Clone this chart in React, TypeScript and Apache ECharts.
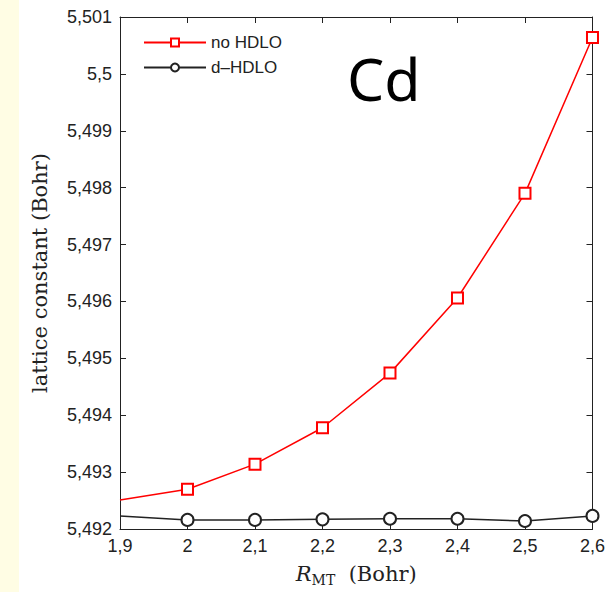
import React, { useEffect, useRef } from "react";
import * as echarts from "echarts";

const xValues = [1.9, 2.0, 2.1, 2.2, 2.3, 2.4, 2.5, 2.6];
const noHDLO = [5.49251, 5.4927, 5.49314, 5.49378, 5.49474, 5.49606, 5.4979, 5.50064];
const dHDLO = [5.49223, 5.49216, 5.49216, 5.49217, 5.49218, 5.49218, 5.49214, 5.49223];
const seriesNames = ["no HDLO", "d\u2013HDLO"];
const panelLabel = "Cd";
const yAxisTitle = "lattice constant (Bohr)";

const fmt = (v: number) => {
  const s = String(parseFloat(v.toFixed(4)));
  return s.replace(".", ",");
};

export default function App() {
  const ref = useRef<HTMLDivElement>(null);
  useEffect(() => {
    if (!ref.current) return;
    const chart = echarts.init(ref.current, null, { renderer: "svg" });
    const mk = (vals: number[]) =>
      xValues.map((x, i) =>
        i === 0 ? { value: [x, vals[i]], symbol: "none" } : { value: [x, vals[i]] }
      );
    const axisLine = { show: true, lineStyle: { color: "#222", width: 1 } };
    const tickLabelStyle = {
      fontFamily: "Liberation Sans",
      fontSize: 18,
      color: "#222",
    };
    chart.setOption({
      animation: false,
      backgroundColor: "#ffffff",
      grid: { left: 120, right: 13, top: 17, bottom: 63, containLabel: false },
      graphic: [
        {
          type: "rect",
          left: 0,
          top: 0,
          shape: { width: 19, height: 592 },
          style: { fill: "#FFFDE4" },
          silent: true,
        },
        {
          type: "text",
          x: 347,
          y: 78,
          style: {
            text: panelLabel,
            fontFamily: "Noto Sans",
            fontSize: 59,
            fill: "#000",
            verticalAlign: "middle",
            align: "left",
          },
        },
      ],
      legend: {
        left: 138,
        top: 29,
        orient: "vertical",
        itemWidth: 62,
        itemHeight: 10,
        itemGap: 8,
        textStyle: { fontFamily: "Liberation Sans", fontSize: 17, color: "#222" },
        data: seriesNames,
      },
      xAxis: [
        {
          type: "value",
          min: 1.9,
          max: 2.6,
          interval: 0.1,
          axisLine,
          axisTick: { show: true, inside: true, length: 6, lineStyle: { color: "#222" } },
          axisLabel: { ...tickLabelStyle, margin: 8, formatter: fmt },
          splitLine: { show: false },
          name: "{r|R}{s|MT}{n|  (Bohr)}",
          nameLocation: "middle",
          nameGap: 32,
          nameTextStyle: {
            rich: {
              r: { fontFamily: "DejaVu Serif", fontStyle: "italic", fontSize: 21, color: "#222", lineHeight: 26, verticalAlign: "middle" },
              s: { fontFamily: "DejaVu Serif", fontSize: 14, color: "#222", lineHeight: 14, verticalAlign: "bottom" },
              n: { fontFamily: "DejaVu Serif", fontSize: 21, color: "#222", lineHeight: 26, verticalAlign: "middle" },
            },
          },
        },
        {
          type: "value",
          position: "top",
          min: 1.9,
          max: 2.6,
          interval: 0.1,
          axisLine,
          axisTick: { show: true, inside: true, length: 6, lineStyle: { color: "#222" } },
          axisLabel: { show: false },
          splitLine: { show: false },
        },
      ],
      yAxis: [
        {
          type: "value",
          min: 5.492,
          max: 5.501,
          interval: 0.001,
          axisLine,
          axisTick: { show: true, inside: true, length: 6, lineStyle: { color: "#222" } },
          axisLabel: { ...tickLabelStyle, margin: 8, formatter: fmt },
          splitLine: { show: false },
          name: yAxisTitle,
          nameLocation: "middle",
          nameGap: 70,
          nameTextStyle: { fontFamily: "DejaVu Serif", fontSize: 21, color: "#222" },
        },
        {
          type: "value",
          position: "right",
          min: 5.492,
          max: 5.501,
          interval: 0.001,
          axisLine,
          axisTick: { show: true, inside: true, length: 6, lineStyle: { color: "#222" } },
          axisLabel: { show: false },
          splitLine: { show: false },
        },
      ],
      series: [
        {
          name: seriesNames[0],
          type: "line",
          data: mk(noHDLO),
          symbol: "emptyRect",
          symbolSize: 11,
          showAllSymbol: true,
          itemStyle: { color: "#ff0000", borderColor: "#ff0000", borderWidth: 1.2 },
          lineStyle: { color: "#ff0000", width: 1.5 },
          clip: false,
        },
        {
          name: seriesNames[1],
          type: "line",
          data: mk(dHDLO),
          symbol: "emptyCircle",
          symbolSize: 12,
          showAllSymbol: true,
          itemStyle: { color: "#222", borderColor: "#222", borderWidth: 1.5 },
          lineStyle: { color: "#222", width: 1.5 },
          clip: false,
        },
      ],
    });
    return () => chart.dispose();
  }, []);
  return (
    <div
      ref={ref}
      style={{ position: "fixed", left: 0, top: 0, width: 608, height: 592 }}
    />
  );
}
